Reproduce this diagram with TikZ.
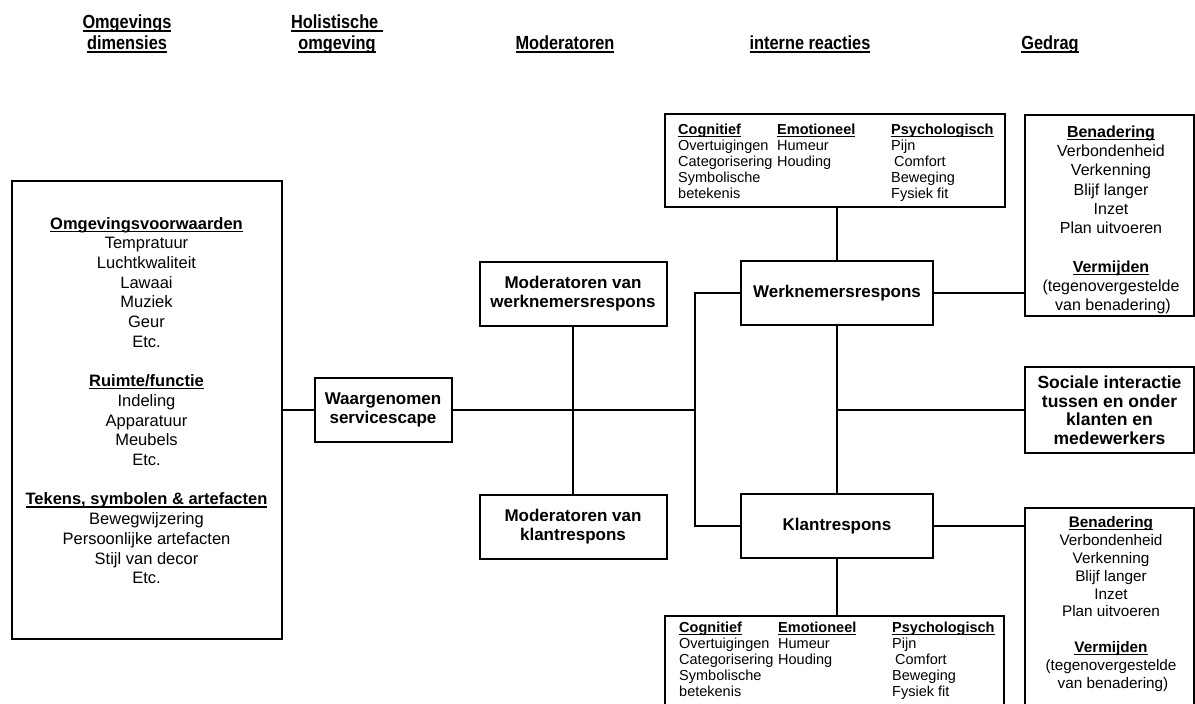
\documentclass[tikz,border=0pt]{standalone}
\usepackage{fontspec}
\setmainfont{Liberation Sans}
\newfontfamily\headfont[FakeStretch=0.86]{Liberation Sans Bold}

% underline drawn as a rule under a box: depth, thickness, text
\newcommand{\ulrule}[3]{\leavevmode\setbox0=\hbox{#3}\rlap{\rule[-#1]{\wd0}{#2}}\box0}
\newcommand{\uln}[1]{\ulrule{2.6pt}{1.2pt}{#1}}
\newcommand{\ulh}[1]{\ulrule{3.4pt}{1.8pt}{#1}}

% the three columns of internal reactions
\newcommand{\reactions}{%
\begin{tabular}{@{}p{99pt}@{}p{114pt}@{}l@{}}
\uln{\bfseries Cognitief} & \uln{\bfseries Emotioneel} & \uln{\bfseries Psychologisch}\\
Overtuigingen & Humeur & Pijn\\
Categorisering & Houding & \hspace*{3pt}Comfort\\
Symbolische & & Beweging\\
betekenis & & Fysiek fit
\end{tabular}}

\tikzset{
  box/.style={draw=black, line width=2pt, inner sep=0pt, outer sep=0pt, align=center,
    font=\fontsize{17}{19}\selectfont\bfseries},
  link/.style={draw=black, line width=2pt},
  head/.style={align=center, inner sep=0pt, font=\headfont\fontsize{19}{21}\selectfont},
  list/.style={align=center, inner sep=0pt, font=\fontsize{16.5}{19.7}\selectfont},
  cols/.style={inner sep=0pt, anchor=north west, font=\fontsize{14.5}{16}\selectfont},
}

\begin{document}
\begin{tikzpicture}[x=1pt,y=-1pt]
\useasboundingbox (0,0) rectangle (1195,704);
\clip (0,0) rectangle (1195,704);

% column headings
\node[head] (hOmg) at (127,34) {\ulh{Omgevings}\\\ulh{dimensies}};
\node[head] (hHol) at (337,34.5) {\ulh{Holistische\ }\\\ulh{omgeving}};
\node[head] (hMod) at (565,44.5) {\ulh{Moderatoren}};
\node[head] (hInt) at (810,44.5) {\ulh{interne reacties}};
\node[head] (hGed) at (1050,45) {\ulh{Gedrag}};

% environmental dimensions
\node[box, minimum width=270, minimum height=458] (omg) at (146.5,410) {};
\node[list] (omgtxt) at (146.5,400.5) {\uln{\bfseries Omgevingsvoorwaarden}\\Tempratuur\\Luchtkwaliteit\\Lawaai\\Muziek\\Geur\\Etc.\\[19.7pt]\uln{\bfseries Ruimte/functie}\\Indeling\\Apparatuur\\Meubels\\Etc.\\[19.7pt]\uln{\bfseries Tekens, symbolen \& artefacten}\\Bewegwijzering\\Persoonlijke artefacten\\Stijl van decor\\Etc.};

% perceived servicescape and moderators
\node[box, minimum width=137, minimum height=64] (wsc) at (383,410) {Waargenomen\\servicescape};
\node[box, minimum width=187, minimum height=64] (modw) at (573,293.5) {Moderatoren van\\werknemersrespons};
\node[box, minimum width=187, minimum height=64] (modk) at (573,526.5) {Moderatoren van\\klantrespons};

% responses
\node[box, minimum width=192, minimum height=64] (werk) at (837,293) {Werknemersrespons};
\node[box, minimum width=192, minimum height=64] (klant) at (837,526) {Klantrespons};

% internal reactions
\node[box, minimum width=340, minimum height=93] (itop) at (835,160.5) {};
\node[cols] (itoptxt) at (678,123.3) {\reactions};
\node[box, minimum width=339, minimum height=110] (ibot) at (834.5,671) {};
\node[cols] (ibottxt) at (679,621.3) {\reactions};

% behaviour
\node[box, minimum width=169, minimum height=201] (gtop) at (1109.5,215.5) {};
\node[list, font=\fontsize{16}{19.3}\selectfont] (gtoptxt) at (1111,220) {\uln{\bfseries Benadering}\\Verbondenheid\\Verkenning\\Blijf langer\\Inzet\\Plan uitvoeren\\[19.3pt]\uln{\bfseries Vermijden}\\(tegenovergestelde\hspace*{6pt}\\\hspace*{4pt}van benadering)};
\node[box, minimum width=169, minimum height=86, font=\fontsize{17.5}{18.5}\selectfont\bfseries] (soc) at (1109.5,410) {Sociale interactie\\tussen en onder\\klanten en\\medewerkers};
\node[box, minimum width=169, minimum height=220] (gbot) at (1109.5,618) {};
\node[list, font=\fontsize{15.3}{17.9}\selectfont] (gbottxt) at (1111,604) {\uln{\bfseries Benadering}\\Verbondenheid\\Verkenning\\Blijf langer\\Inzet\\Plan uitvoeren\\[17.9pt]\uln{\bfseries Vermijden}\\(tegenovergestelde\hspace*{6pt}\\\hspace*{4pt}van benadering)};

% connectors
\coordinate (jn) at (695,410);
\draw[link] (omg.east) -- (wsc.west);
\draw[link] (wsc.east) -- (jn);
\draw[link] (werk.west) -| (jn) |- (klant.west);
\draw[link] (modw.south) -- (modk.north);
\draw[link] (werk.south) -- (klant.north);
\draw[link] (werk.north) -- (werk.north |- itop.south);
\draw[link] (klant.south) -- (klant.south |- ibot.north);
\draw[link] (werk.east) -- (werk.east -| gtop.west);
\draw[link] (klant.east) -- (klant.east -| gbot.west);
\draw[link] (werk.south |- soc.west) -- (soc.west);
\end{tikzpicture}
\end{document}
